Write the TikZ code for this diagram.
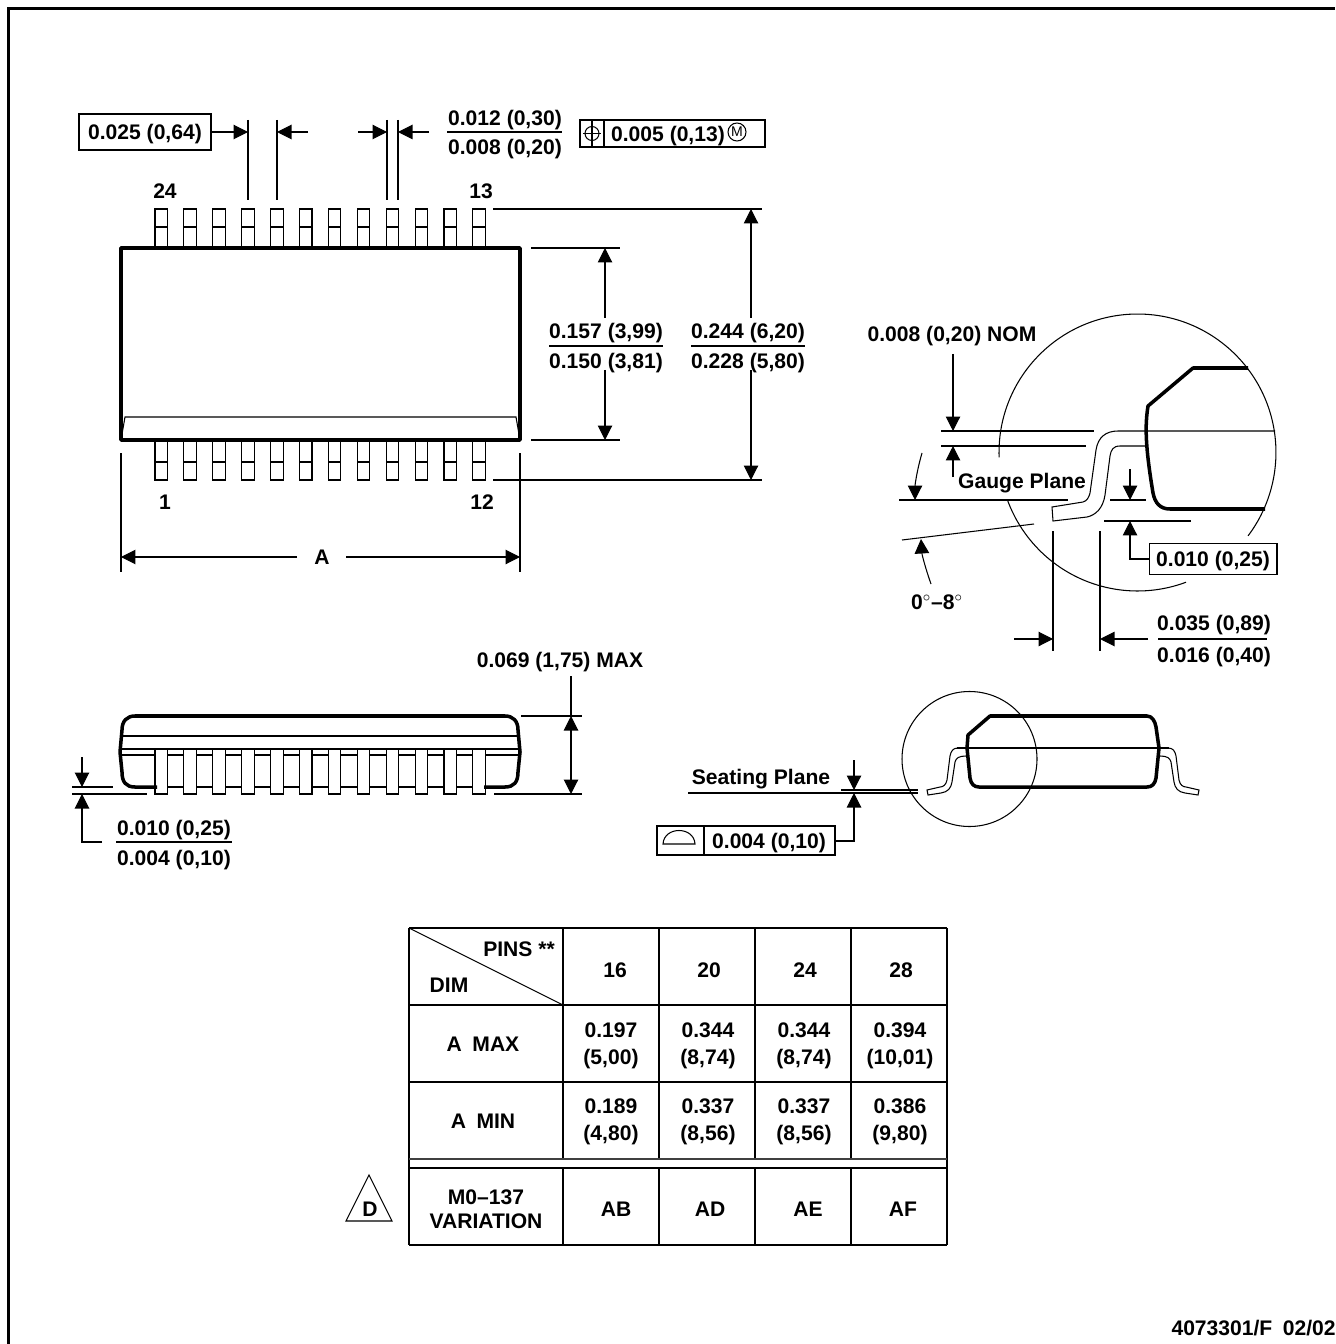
\documentclass[tikz,border=0pt]{standalone}
\usepackage{fontspec}
\setmainfont{Liberation Sans}
\usetikzlibrary{arrows.meta}
\tikzset{
    thinline/.style={line width=0.6pt},
    bodyline/.style={line width=2pt,line join=round},
    dimtip/.style={-{Triangle[length=2.9mm,width=2.9mm]}},
    dimboth/.style={{Triangle[length=2.9mm,width=2.9mm]}-{Triangle[length=2.9mm,width=2.9mm]}},
    lbl/.style={font=\bfseries\fontsize{12pt}{14pt}\selectfont,inner sep=0pt,text height=8.6pt,text depth=0pt},
    lbltwo/.style={font=\bfseries\fontsize{12pt}{14pt}\selectfont,inner sep=0pt,align=center,yshift=-0.04cm},
    pin/.style={thinline,fill=white},
}
\begin{document}
\begin{tikzpicture}[x=0.02cm,y=0.02cm]
    % Page and frame
    \useasboundingbox (0,-1344) rectangle (1335,0);
    \draw[line width=1.7pt] (8.5,-1344) -- (8.5,-8.5) -- (1335,-8.5);
    % Top view: package outline and shoulder
    \draw[bodyline] (121,-248) rectangle (520,-440);
    \draw[thinline] (121,-440) -- (125,-417) -- (516,-417) -- (520,-440);
    % Top view: the two rows of pins
    \foreach \n in {0,...,11} {
        \pgfmathsetmacro{\px}{155+28.9*\n}
        \draw[pin] (\px,-209) rectangle ({\px+12.5},-247);
        \draw[thinline] (\px,-227) -- ({\px+12.5},-227);
        \draw[pin] (\px,-441) rectangle ({\px+12.5},-480);
        \draw[thinline] (\px,-462) -- ({\px+12.5},-462);
    }
    \node[lbl] (pintl) at (165,-191) {24};
    \node[lbl] (pintr) at (481,-191) {13};
    \node[lbl] (pinbl) at (165,-502) {1};
    \node[lbl] (pinbr) at (482,-502) {12};
    % Top view: width A
    \draw[thinline] (121,-453) -- (121,-572);
    \draw[thinline] (520,-453) -- (520,-572);
    \node[lbl] (widtha) at (322,-557) {A};
    \coordinate (al) at (121,-557);
    \coordinate (ar) at (520,-557);
    \draw[thinline,dimtip] (297,-557) -- (al);
    \draw[thinline,dimtip] (346,-557) -- (ar);
    % Top view: pitch and pin width
    \draw[thinline] (248,-120) -- (248,-200);
    \draw[thinline] (277,-120) -- (277,-200);
    \draw[thinline] (387,-120) -- (387,-200);
    \draw[thinline] (398,-120) -- (398,-200);
    \node[lbl,draw,thinline,minimum width=2.64cm,minimum height=0.72cm] (pitch) at (145,-132) {0.025 (0,64)};
    \draw[thinline,dimtip] (pitch.east) -- (248,-132);
    \draw[thinline,dimtip] (308,-132) -- (277,-132);
    \draw[thinline,dimtip] (358,-132) -- (387,-132);
    \draw[thinline,dimtip] (429,-132) -- (398,-132);
    \node[lbl] (pinwa) at (505,-118) {0.012 (0,30)};
    \node[lbl] (pinwb) at (505,-147) {0.008 (0,20)};
    \draw[thinline] (447,-132) -- (562,-132);
    % Top view: position tolerance frame
    \draw[thinline] (580,-120) rectangle (765,-147);
    \draw[thinline] (580,-120) rectangle (604,-147);
    \draw[thinline] (592,-133.5) circle (7);
    \draw[thinline] (592,-120) -- (592,-147);
    \draw[thinline] (583,-133.5) -- (601,-133.5);
    \node[lbl] (tol) at (668,-134) {0.005 (0,13)};
    \draw[thinline] (737,-132) circle (9);
    \node[font=\fontsize{8pt}{9pt}\selectfont,inner sep=0pt] (tolm) at (737,-132) {M};
    % Top view: body width and overall width
    \draw[thinline] (493,-209) -- (762,-209);
    \draw[thinline] (531,-248) -- (620,-248);
    \draw[thinline] (531,-440) -- (620,-440);
    \draw[thinline] (493,-480) -- (762,-480);
    \draw[thinline,dimtip] (605,-318) -- (605,-248);
    \draw[thinline,dimtip] (605,-370) -- (605,-440);
    \draw[thinline,dimtip] (751,-318) -- (751,-209);
    \draw[thinline,dimtip] (751,-370) -- (751,-480);
    \node[lbl] (bwa) at (606,-331) {0.157 (3,99)};
    \node[lbl] (bwb) at (606,-361) {0.150 (3,81)};
    \draw[thinline] (549,-346) -- (663,-346);
    \node[lbl] (owa) at (748,-331) {0.244 (6,20)};
    \node[lbl] (owb) at (748,-361) {0.228 (5,80)};
    \draw[thinline] (691,-346) -- (805,-346);
    % Detail view: broken circle
    \draw[thinline] (1137.5,-452.5) ++(182:138.5) arc[start angle=182,end angle=-37,radius=2.77cm];
    \draw[thinline] (1137.5,-452.5) ++(-69.5:138.5) arc[start angle=-69.5,end angle=-160,radius=2.77cm];
    % Detail view: body and lead
    \draw[bodyline] (1248,-368) -- (1193,-368) -- (1148,-406) .. controls (1145,-425) and (1145,-445) .. (1153,-493)
        .. controls (1155,-503) and (1160,-509) .. (1170,-509) -- (1265,-509);
    \draw[thinline] (1145,-446) -- (1120,-446) .. controls (1113,-446) and (1111,-450) .. (1110,-456)
        -- (1105,-495) .. controls (1103,-508) and (1096,-515) .. (1087,-517) -- (1053,-521) -- (1052,-507)
        -- (1083,-502) .. controls (1087,-501) and (1089,-497) .. (1090,-493) -- (1096,-450)
        .. controls (1098,-437) and (1106,-431) .. (1118,-431) -- (1275,-431);
    % Detail view: gauge plane
    \draw[thinline] (941,-431) -- (1094,-431);
    \draw[thinline] (941,-446) -- (1086,-446);
    \node[lbl] (gaugea) at (952,-334) {0.008 (0,20) NOM};
    \draw[thinline,dimtip] (953,-354) -- (953,-431);
    \draw[thinline,dimtip] (953,-477) -- (953,-446);
    \node[lbl] (gauge) at (1022,-481) {Gauge Plane};
    % Detail view: foot angle
    \draw[thinline] (899,-500) -- (1068,-500);
    \draw[thinline] (902,-540) -- (1034,-524);
    \draw[thinline,dimtip] (922,-453) .. controls (917,-470) and (915,-485) .. (915,-500);
    \draw[thinline,dimtip] (931,-584) .. controls (926,-570) and (922,-555) .. (921,-539);
    \node[lbl] (angle) at (937,-602) {0$^\circ$--8$^\circ$};
    % Detail view: lead thickness
    \draw[thinline] (1110,-500) -- (1146,-500);
    \draw[thinline] (1104,-521) -- (1191,-521);
    \draw[thinline,dimtip] (1130,-469) -- (1130,-500);
    \node[lbl,draw,thinline,minimum width=2.56cm,minimum height=0.62cm] (leadt) at (1213,-559) {0.010 (0,25)};
    \draw[thinline,dimtip] (leadt.west) -- (1130,-559) -- (1130,-521);
    % Detail view: foot length
    \draw[thinline] (1053,-531) -- (1053,-651);
    \draw[thinline] (1100,-531) -- (1100,-651);
    \draw[thinline,dimtip] (1014,-639) -- (1053,-639);
    \draw[thinline,dimtip] (1148,-639) -- (1100,-639);
    \node[lbl] (foota) at (1214,-623) {0.035 (0,89)};
    \node[lbl] (footb) at (1214,-655) {0.016 (0,40)};
    \draw[thinline] (1158,-639) -- (1267,-639);
    % Side view: long side
    \draw[thinline] (122,-736) -- (518,-736);
    \draw[thinline] (121,-749) -- (519,-749);
    \draw[thinline] (121,-755) -- (519,-755);
    \draw[thinline] (155,-787) -- (486,-787);
    \foreach \n in {0,...,11} {
        \pgfmathsetmacro{\px}{155+28.9*\n}
        \draw[pin] (\px,-749) rectangle ({\px+12.5},-794);
    }
    \draw[bodyline] (157,-787) -- (135,-787) .. controls (126,-787) and (122,-782) .. (122,-772) -- (120,-752)
        -- (122,-730) .. controls (122,-721) and (127,-716) .. (135,-716) -- (505,-716)
        .. controls (513,-716) and (518,-721) .. (518,-730) -- (520,-752) -- (518,-772)
        .. controls (518,-782) and (514,-787) .. (505,-787) -- (484,-787);
    % Side view: standoff
    \draw[thinline] (72,-787) -- (113,-787);
    \draw[thinline] (72,-794) -- (147,-794);
    \draw[thinline,dimtip] (82,-757) -- (82,-787);
    \coordinate (standoff) at (102,-842);
    \draw[thinline,dimtip] (standoff) -- (82,-842) -- (82,-794);
    \node[lbl] (sta) at (174,-828) {0.010 (0,25)};
    \node[lbl] (stb) at (174,-858) {0.004 (0,10)};
    \draw[thinline] (116,-842) -- (232,-842);
    % Side view: height
    \draw[thinline] (521,-716) -- (582,-716);
    \draw[thinline] (494,-794) -- (582,-794);
    \draw[thinline] (571,-676) -- (571,-716);
    \draw[thinline,dimboth] (571,-716) -- (571,-794);
    \node[lbl] (height) at (560,-660) {0.069 (1,75) MAX};
    % End view: body, leads and circle
    \draw[thinline] (969.5,-759) circle (67.5);
    \draw[bodyline] (968,-735) -- (990,-716) -- (1147,-716) .. controls (1152,-716) and (1155,-721) .. (1156,-727)
        -- (1159,-748) -- (1156,-778) .. controls (1155,-784) and (1152,-787) .. (1147,-787)
        -- (979,-787) .. controls (974,-787) and (971,-784) .. (970,-778) -- (967,-748) -- cycle;
    \draw[thinline] (957,-748) -- (1169,-748);
    \draw[thinline] (958,-748) .. controls (953,-748) and (951,-751) .. (950,-756) -- (947,-780)
        .. controls (946,-785) and (943,-787) .. (940,-787) -- (927,-790) -- (928,-795) -- (941,-793)
        .. controls (948,-792) and (951,-788) .. (952,-782) -- (955,-762) .. controls (956,-758) and (959,-756) .. (966,-756);
    \draw[thinline] (1168,-748) .. controls (1173,-748) and (1175,-751) .. (1176,-756) -- (1179,-780)
        .. controls (1180,-785) and (1183,-787) .. (1186,-787) -- (1199,-790) -- (1198,-795) -- (1185,-793)
        .. controls (1178,-792) and (1175,-788) .. (1174,-782) -- (1171,-762) .. controls (1170,-758) and (1167,-756) .. (1160,-756);
    % End view: seating plane and coplanarity
    \node[lbl] (seat) at (761,-777) {Seating Plane};
    \draw[thinline] (688,-793) -- (918,-793);
    \draw[thinline] (841,-790) -- (918,-790);
    \draw[thinline,dimtip] (854,-760) -- (854,-790);
    \draw[thinline] (657,-826) rectangle (835,-855);
    \draw[thinline] (704,-826) -- (704,-855);
    \draw[thinline] (663,-844) .. controls (664,-826) and (694,-826) .. (695,-844) -- cycle;
    \node[lbl] (copl) at (769,-841) {0.004 (0,10)};
    \coordinate (coplr) at (835,-841);
    \draw[thinline,dimtip] (coplr) -- (854,-841) -- (854,-793);
    % Table
    \draw[thinline] (409,-928) -- (409,-1245);
    \draw[thinline] (947,-928) -- (947,-1245);
    \foreach \tx in {563,659,755,851} {
        \draw[thinline] (\tx,-928) -- (\tx,-1159);
        \draw[thinline] (\tx,-1168) -- (\tx,-1245);
    }
    \foreach \ty in {928,1005,1082,1168,1245} {
        \draw[thinline] (409,-\ty) -- (947,-\ty);
    }
    \draw[line width=1pt,black!75] (409,-1159) -- (947,-1159);
    \draw[thinline] (409,-928) -- (563,-1005);
    \node[lbl] (pins) at (519,-949) {PINS **};
    \node[lbl] (dim) at (449,-985) {DIM};
    \node[lbl] (c16) at (615,-970) {16};
    \node[lbl] (c20) at (709,-970) {20};
    \node[lbl] (c24) at (805,-970) {24};
    \node[lbl] (c28) at (901,-970) {28};
    \node[lbl] (amax) at (483,-1044) {A\enspace MAX};
    \node[lbltwo] (amaxa) at (611,-1044) {0.197\\[1.3pt](5,00)};
    \node[lbltwo] (amaxb) at (708,-1044) {0.344\\[1.3pt](8,74)};
    \node[lbltwo] (amaxc) at (804,-1044) {0.344\\[1.3pt](8,74)};
    \node[lbltwo] (amaxd) at (900,-1044) {0.394\\[1.3pt](10,01)};
    \node[lbl] (amin) at (483,-1121) {A\enspace MIN};
    \node[lbltwo] (amina) at (611,-1120) {0.189\\[1.3pt](4,80)};
    \node[lbltwo] (aminb) at (708,-1120) {0.337\\[1.3pt](8,56)};
    \node[lbltwo] (aminc) at (804,-1120) {0.337\\[1.3pt](8,56)};
    \node[lbltwo] (amind) at (900,-1120) {0.386\\[1.3pt](9,80)};
    \node[lbltwo] (vari) at (486,-1207) {M0--137\\[-0.4pt]VARIATION};
    \node[lbl] (vab) at (616,-1209) {AB};
    \node[lbl] (vad) at (710,-1209) {AD};
    \node[lbl] (vae) at (808,-1209) {AE};
    \node[lbl] (vaf) at (903,-1209) {AF};
    % Note flag and drawing number
    \draw[thinline] (369,-1175) -- (392,-1221) -- (346,-1221) -- cycle;
    \node[lbl] (noted) at (370,-1209) {D};
    \node[lbl,anchor=east] (drawno) at (1336,-1328) {4073301/F\enspace 02/02};
\end{tikzpicture}
\end{document}
